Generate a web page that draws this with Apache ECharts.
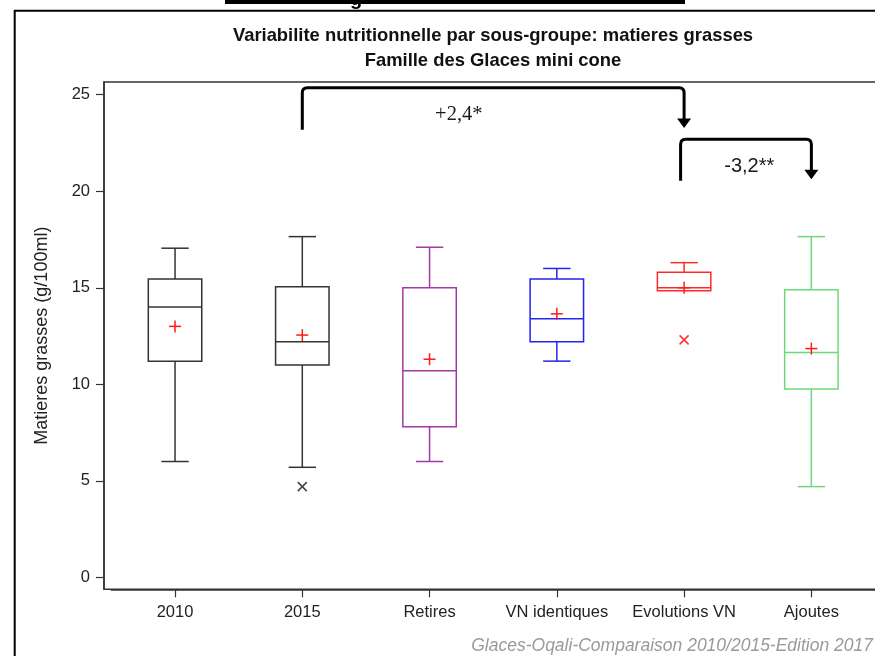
<!DOCTYPE html>
<html>
<head>
<meta charset="utf-8">
<script src="https://cdn.jsdelivr.net/npm/echarts@6/dist/echarts.min.js"></script>
<style>
html,body{margin:0;padding:0;background:#fff;}
#chart{width:875px;height:656px;}
</style>
</head>
<body>
<div id="chart"></div>
<script>
// ---- data ----
const categories = ['2010', '2015', 'Retires', 'VN identiques', 'Evolutions VN', 'Ajoutes'];
const whiskerLow  = [6.0, 5.7, 6.0, 11.2, 14.85, 4.7];
const quartile1   = [11.2, 11.0, 7.8, 12.2, 14.85, 9.75];
const medians     = [14.0, 12.2, 10.7, 13.4, 15.0, 11.65];
const quartile3   = [15.45, 15.05, 15.0, 15.45, 15.8, 14.9];
const whiskerHigh = [17.05, 17.65, 17.1, 16.0, 16.3, 17.65];
const means       = [13.0, 12.55, 11.3, 13.65, 15.0, 11.85];
const outlierCat  = [1, 4];
const outlierVal  = [4.7, 12.3];
const yTicks      = [0, 5, 10, 15, 20, 25];
const yRange      = [-0.62, 25.66];
// brackets: from category, to category, top value, start bottom value, end (arrow tip) value, label
const bracketFrom  = [1, 4];
const bracketTo    = [4, 5];
const bracketTop   = [25.36, 22.69];
const bracketStart = [23.18, 20.55];
const bracketEnd   = [23.28, 20.62];
const bracketLabel = ['+2,4*', '-3,2**'];
const bracketLabelY = [23.95, 21.27];
const bracketLabelRatio = [0.41, 0.525];

// ---- styles ----
const boxColors = ['#333333', '#333333', '#a03aa6', '#2424f0', '#ff2a2a', '#6cd87c'];
const outlierColors = ['#444444', '#444444', '#444444', '#444444', '#ff3030', '#444444'];
const font = '"Liberation Sans", Arial, sans-serif';

const chart = echarts.init(document.getElementById('chart'), null, {renderer: 'canvas'});

function boxItem(params, api) {
  const i = api.value(0);
  const band = api.size([1, 0])[0];
  const bw = band * 0.42, cw = band * 0.215;
  const pLow = api.coord([i, api.value(1)]);
  const pQ1 = api.coord([i, api.value(2)]);
  const pMed = api.coord([i, api.value(3)]);
  const pQ3 = api.coord([i, api.value(4)]);
  const pHigh = api.coord([i, api.value(5)]);
  const x = pMed[0];
  const st = {stroke: boxColors[i], lineWidth: 1.5, fill: null};
  const line = (x1, y1, x2, y2) => ({type: 'line', shape: {x1, y1, x2, y2}, style: st});
  const children = [
    {type: 'rect', shape: {x: x - bw / 2, y: pQ3[1], width: bw, height: pQ1[1] - pQ3[1]}, style: {stroke: boxColors[i], lineWidth: 1.5, fill: 'rgba(0,0,0,0)'}},
    line(x - bw / 2, pMed[1], x + bw / 2, pMed[1]),
    line(x, pQ3[1], x, pHigh[1]),
    line(x - cw / 2, pHigh[1], x + cw / 2, pHigh[1])
  ];
  if (pLow[1] - pQ1[1] > 0.5) {
    children.push(line(x, pQ1[1], x, pLow[1]));
    children.push(line(x - cw / 2, pLow[1], x + cw / 2, pLow[1]));
  }
  return {type: 'group', children};
}

function meanItem(params, api) {
  const p = api.coord([api.value(0), api.value(1)]);
  const s = 6;
  const st = {stroke: '#ff1a1a', lineWidth: 1.5};
  return {type: 'group', children: [
    {type: 'line', shape: {x1: p[0] - s, y1: p[1], x2: p[0] + s, y2: p[1]}, style: st},
    {type: 'line', shape: {x1: p[0], y1: p[1] - s, x2: p[0], y2: p[1] + s}, style: st}
  ]};
}

function outlierItem(params, api) {
  const i = api.value(0);
  const p = api.coord([i, api.value(1)]);
  const s = 4.5;
  const st = {stroke: outlierColors[i], lineWidth: 1.5};
  return {type: 'group', children: [
    {type: 'line', shape: {x1: p[0] - s, y1: p[1] - s, x2: p[0] + s, y2: p[1] + s}, style: st},
    {type: 'line', shape: {x1: p[0] - s, y1: p[1] + s, x2: p[0] + s, y2: p[1] - s}, style: st}
  ]};
}

function bracketItem(params, api) {
  const k = params.dataIndex;
  const a = api.coord([api.value(0), api.value(3)]);
  const top1 = api.coord([api.value(0), api.value(2)]);
  const tip = api.coord([api.value(1), api.value(4)]);
  const r = 5, ah = 9.5, aw = 7;
  const x1 = a[0] - (k === 1 ? 3.5 : 0), x2 = tip[0], yt = top1[1];
  const path = 'M' + x1 + ' ' + a[1] +
    ' L' + x1 + ' ' + (yt + r) +
    ' Q' + x1 + ' ' + yt + ' ' + (x1 + r) + ' ' + yt +
    ' L' + (x2 - r) + ' ' + yt +
    ' Q' + x2 + ' ' + yt + ' ' + x2 + ' ' + (yt + r) +
    ' L' + x2 + ' ' + (tip[1] - ah + 1);
  const lp = api.coord([api.value(0), api.value(5)]);
  const lx = x1 + (x2 - x1) * bracketLabelRatio[k];
  return {type: 'group', children: [
    {type: 'path', shape: {pathData: path}, style: {stroke: '#000', lineWidth: 3, fill: null, lineCap: 'butt', lineJoin: 'round'}},
    {type: 'polygon', shape: {points: [[x2 - aw, tip[1] - ah], [x2 + aw, tip[1] - ah], [x2, tip[1]]]}, style: {fill: '#000'}},
    {type: 'text', x: lx, y: lp[1], style: {
      text: bracketLabel[k], align: 'center', verticalAlign: 'middle',
      fill: '#1a1a1a',
      font: k === 0 ? '20.5px "Liberation Serif", "DejaVu Serif", serif' : '20px "Liberation Sans", Arial, sans-serif'
    }}
  ]};
}

const option = {
  backgroundColor: '#ffffff',
  animation: false,
  grid: {left: 111.4, right: -0.3, top: 82, bottom: 66.7, containLabel: false},
  xAxis: {
    type: 'category',
    data: categories,
    boundaryGap: true,
    axisLine: {show: true, onZero: false, lineStyle: {color: '#333', width: 1.5}},
    axisTick: {show: true, alignWithLabel: true, length: 8, lineStyle: {color: '#333', width: 1.2}},
    axisLabel: {color: '#222', fontSize: 16.5, fontFamily: font, margin: 15, interval: 0},
    splitLine: {show: false}
  },
  yAxis: {
    type: 'value',
    min: yRange[0],
    max: yRange[1],
    offset: 7.4,
    axisLine: {show: true, onZero: false, lineStyle: {color: '#333', width: 1.5}},
    axisTick: {show: true, length: 8, customValues: yTicks, lineStyle: {color: '#333', width: 1.2}},
    axisLabel: {color: '#222', fontSize: 16.5, fontFamily: font, margin: 14, customValues: yTicks},
    splitLine: {show: false},
    name: 'Matieres grasses (g/100ml)',
    nameLocation: 'middle',
    nameRotate: 90,
    nameGap: 53,
    nameTextStyle: {color: '#222', fontSize: 18, fontFamily: font}
  },
  graphic: [
    {type: 'rect', z: 0, shape: {x: 14.7, y: 10.7, width: 900, height: 700}, style: {fill: 'rgba(0,0,0,0)', stroke: '#000', lineWidth: 2}},
    {type: 'rect', z: 0, shape: {x: 104, y: 82, width: 800, height: 507.3}, style: {fill: 'rgba(0,0,0,0)', stroke: '#333', lineWidth: 1.5}},
    {type: 'text', z: 1, x: 350, y: -11, style: {text: 'g', font: 'bold 20px "Liberation Sans", Arial, sans-serif', fill: '#000'}},
    {type: 'rect', z: 2, shape: {x: 225, y: -2, width: 460, height: 6}, style: {fill: '#000'}},
    {type: 'text', z: 3, x: 493, y: 27, style: {text: 'Variabilite nutritionnelle par sous-groupe: matieres grasses', align: 'center', font: 'bold 18.4px "Liberation Sans", Arial, sans-serif', fill: '#111'}},
    {type: 'text', z: 3, x: 493, y: 52, style: {text: 'Famille des Glaces mini cone', align: 'center', font: 'bold 18.4px "Liberation Sans", Arial, sans-serif', fill: '#111'}},
    {type: 'text', z: 3, x: 873, y: 646, style: {text: 'Glaces-Oqali-Comparaison 2010/2015-Edition 2017', align: 'right', verticalAlign: 'middle', font: 'italic 17.5px "Liberation Sans", Arial, sans-serif', fill: '#9a9a9a'}}
  ],
  series: [
    {
      type: 'custom', name: 'boxes',
      renderItem: boxItem,
      encode: {x: 0, y: [1, 2, 3, 4, 5]},
      data: categories.map((c, i) => [i, whiskerLow[i], quartile1[i], medians[i], quartile3[i], whiskerHigh[i]]),
      z: 3
    },
    {
      type: 'custom', name: 'means',
      renderItem: meanItem,
      encode: {x: 0, y: 1},
      data: means.map((m, i) => [i, m]),
      z: 4
    },
    {
      type: 'custom', name: 'outliers',
      renderItem: outlierItem,
      encode: {x: 0, y: 1},
      data: outlierCat.map((c, k) => [c, outlierVal[k]]),
      z: 4
    },
    {
      type: 'custom', name: 'brackets',
      renderItem: bracketItem,
      clip: false,
      encode: {x: [0, 1], y: [2, 3, 4]},
      data: bracketFrom.map((f, k) => [f, bracketTo[k], bracketTop[k], bracketStart[k], bracketEnd[k], bracketLabelY[k]]),
      z: 5
    }
  ]
};
chart.setOption(option);
</script>
</body>
</html>
